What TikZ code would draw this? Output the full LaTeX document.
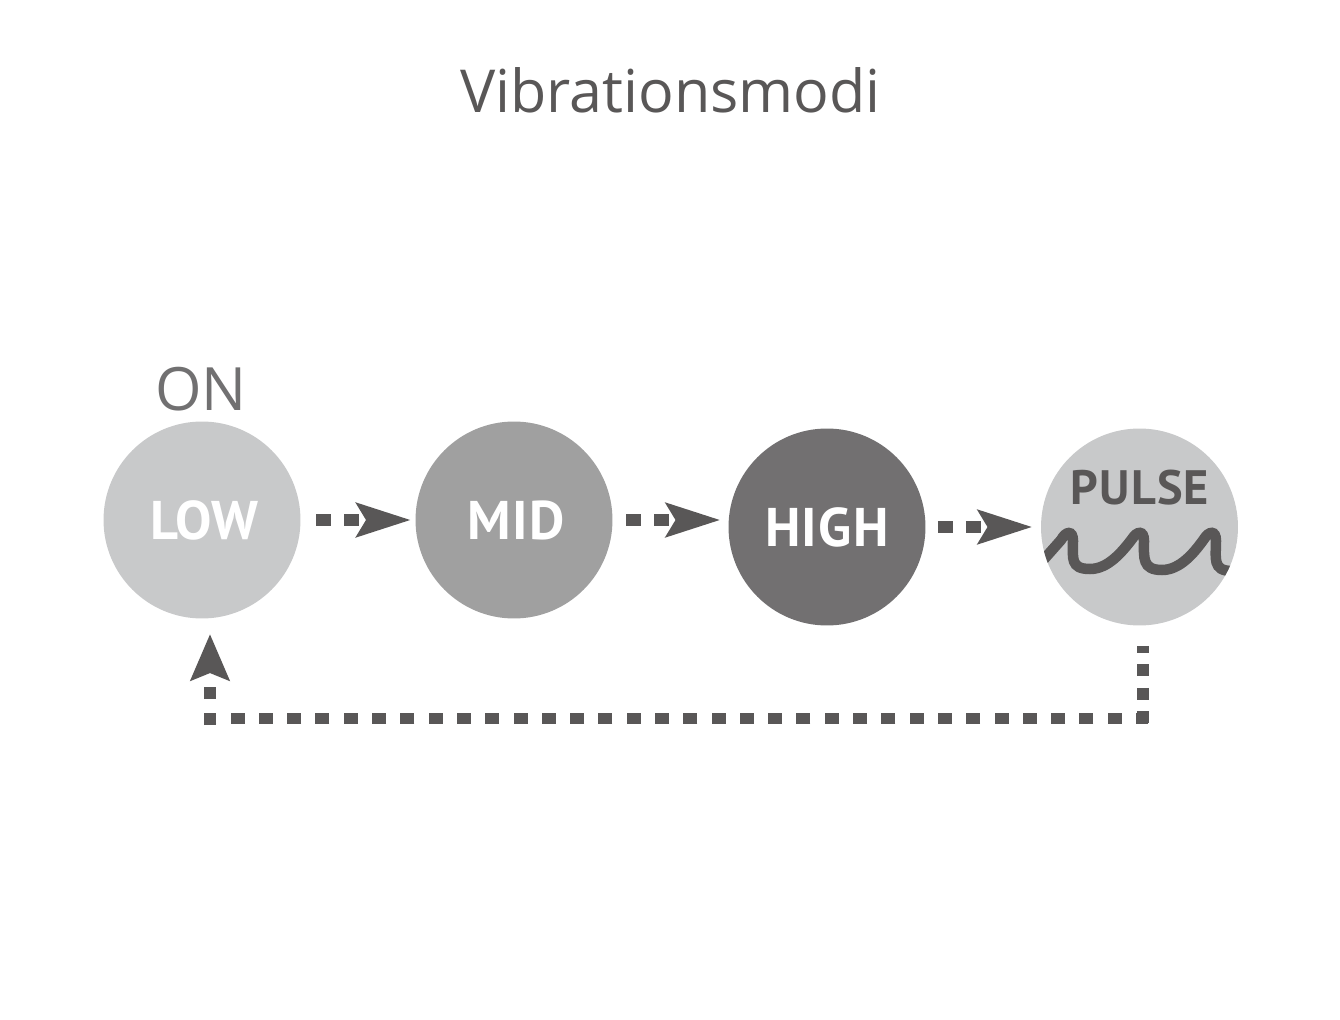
\documentclass[tikz,border=0pt]{standalone}
\usepackage{fontspec}
\setmainfont{Open Sans}
\newfontfamily\labelfont[LetterSpace=2.5]{PT Sans}
\usetikzlibrary{arrows.meta}

\definecolor{darkInk}{HTML}{595757}
\definecolor{onInk}{HTML}{717071}
\definecolor{lowFill}{HTML}{C8C9CA}
\definecolor{midFill}{HTML}{A0A0A0}
\definecolor{highFill}{HTML}{727071}

\tikzset{
  modeNode/.style = {circle, minimum size = 3.94cm, inner sep = 0pt, text = white,
    font = \labelfont\bfseries\fontsize{31}{36}\selectfont},
  flowLine/.style = {darkInk, line width = 0.24cm, dash pattern = on 0.3cm off 0.26cm,
    -{Stealth[length = 1.08cm, width = 0.66cm, inset = 0.18cm]}},
  loopLine/.style = {darkInk, line width = 0.24cm}
}

\begin{document}
\begin{tikzpicture}[x = 0.02cm, y = -0.02cm]
        \useasboundingbox (0, 0) rectangle (1340, 1020);

        \node[text = darkInk, font = \fontsize{33.7}{40}\selectfont] (title) at (670.5, 90) {Vibrationsmodi};

        \node[modeNode, fill = lowFill] (low) at (202, 520) {\hspace{0.1cm}LOW};
        \node[modeNode, fill = midFill] (mid) at (514, 520) {\hspace{0.1cm}MID};
        \node[modeNode, fill = highFill] (high) at (827, 527) {HIGH};
        \node[modeNode, fill = lowFill] (pulse) at (1139.5, 527) {};
        \node[text = darkInk, font = \labelfont\bfseries\fontsize{27.5}{32}\selectfont] (pulseText) at (1140, 488) {PULSE};
        \node[text = onInk, font = \fontsize{34}{44}\selectfont] (on) at (201, 389) {ON};

        \begin{scope}
          \clip (1139.5, 527) circle (98.5);
          \draw[darkInk, line width = 0.21cm]
            (1030, 575) -- (1061, 540)
            .. controls (1066, 531) and (1073, 530) .. (1073, 541)
            .. controls (1073, 558) and (1070, 569) .. (1090, 569)
            .. controls (1108, 569) and (1122, 552) .. (1132, 539)
            .. controls (1137, 531) and (1144, 530) .. (1144, 541)
            .. controls (1144, 558) and (1142, 570) .. (1162, 570)
            .. controls (1180, 570) and (1194, 553) .. (1204, 539)
            .. controls (1209, 531) and (1216, 530) .. (1216, 541)
            .. controls (1216, 558) and (1212, 571) .. (1232, 571)
            -- (1245, 568);
        \end{scope}

        \draw[flowLine, shorten < = 0.31cm, shorten > = 0.08cm] (low) -- (mid);
        \draw[flowLine, shorten < = 0.27cm, shorten > = 0.15cm] (mid) -- (mid -| high.west);
        \draw[flowLine, shorten < = 0.24cm, shorten > = 0.16cm] (high) -- (pulse);

        \coordinate (pulseOut) at (1142.5, 646);
        \coordinate (pulseCorner) at (1142.5, 725);
        \coordinate (loopRight) at (1148, 718.5);
        \coordinate (loopLeft) at (204, 718.5);
        \coordinate (lowCorner) at (210, 725);
        \coordinate (lowIn) at (210, 634);

        \draw[loopLine, dash pattern = on 0.24cm off 0.23cm, dash phase = 0.1cm] (pulseOut) -- (pulseCorner);
        \draw[loopLine, dash pattern = on 0.28cm off 0.286cm, dash phase = 0.04cm] (loopRight) -- (loopLeft);
        \draw[loopLine, dash pattern = on 0.24cm off 0.28cm,
          -{Stealth[length = 0.92cm, width = 0.76cm, inset = 0.14cm]}] (lowCorner) -- (lowIn);
      \end{tikzpicture}
\end{document}
